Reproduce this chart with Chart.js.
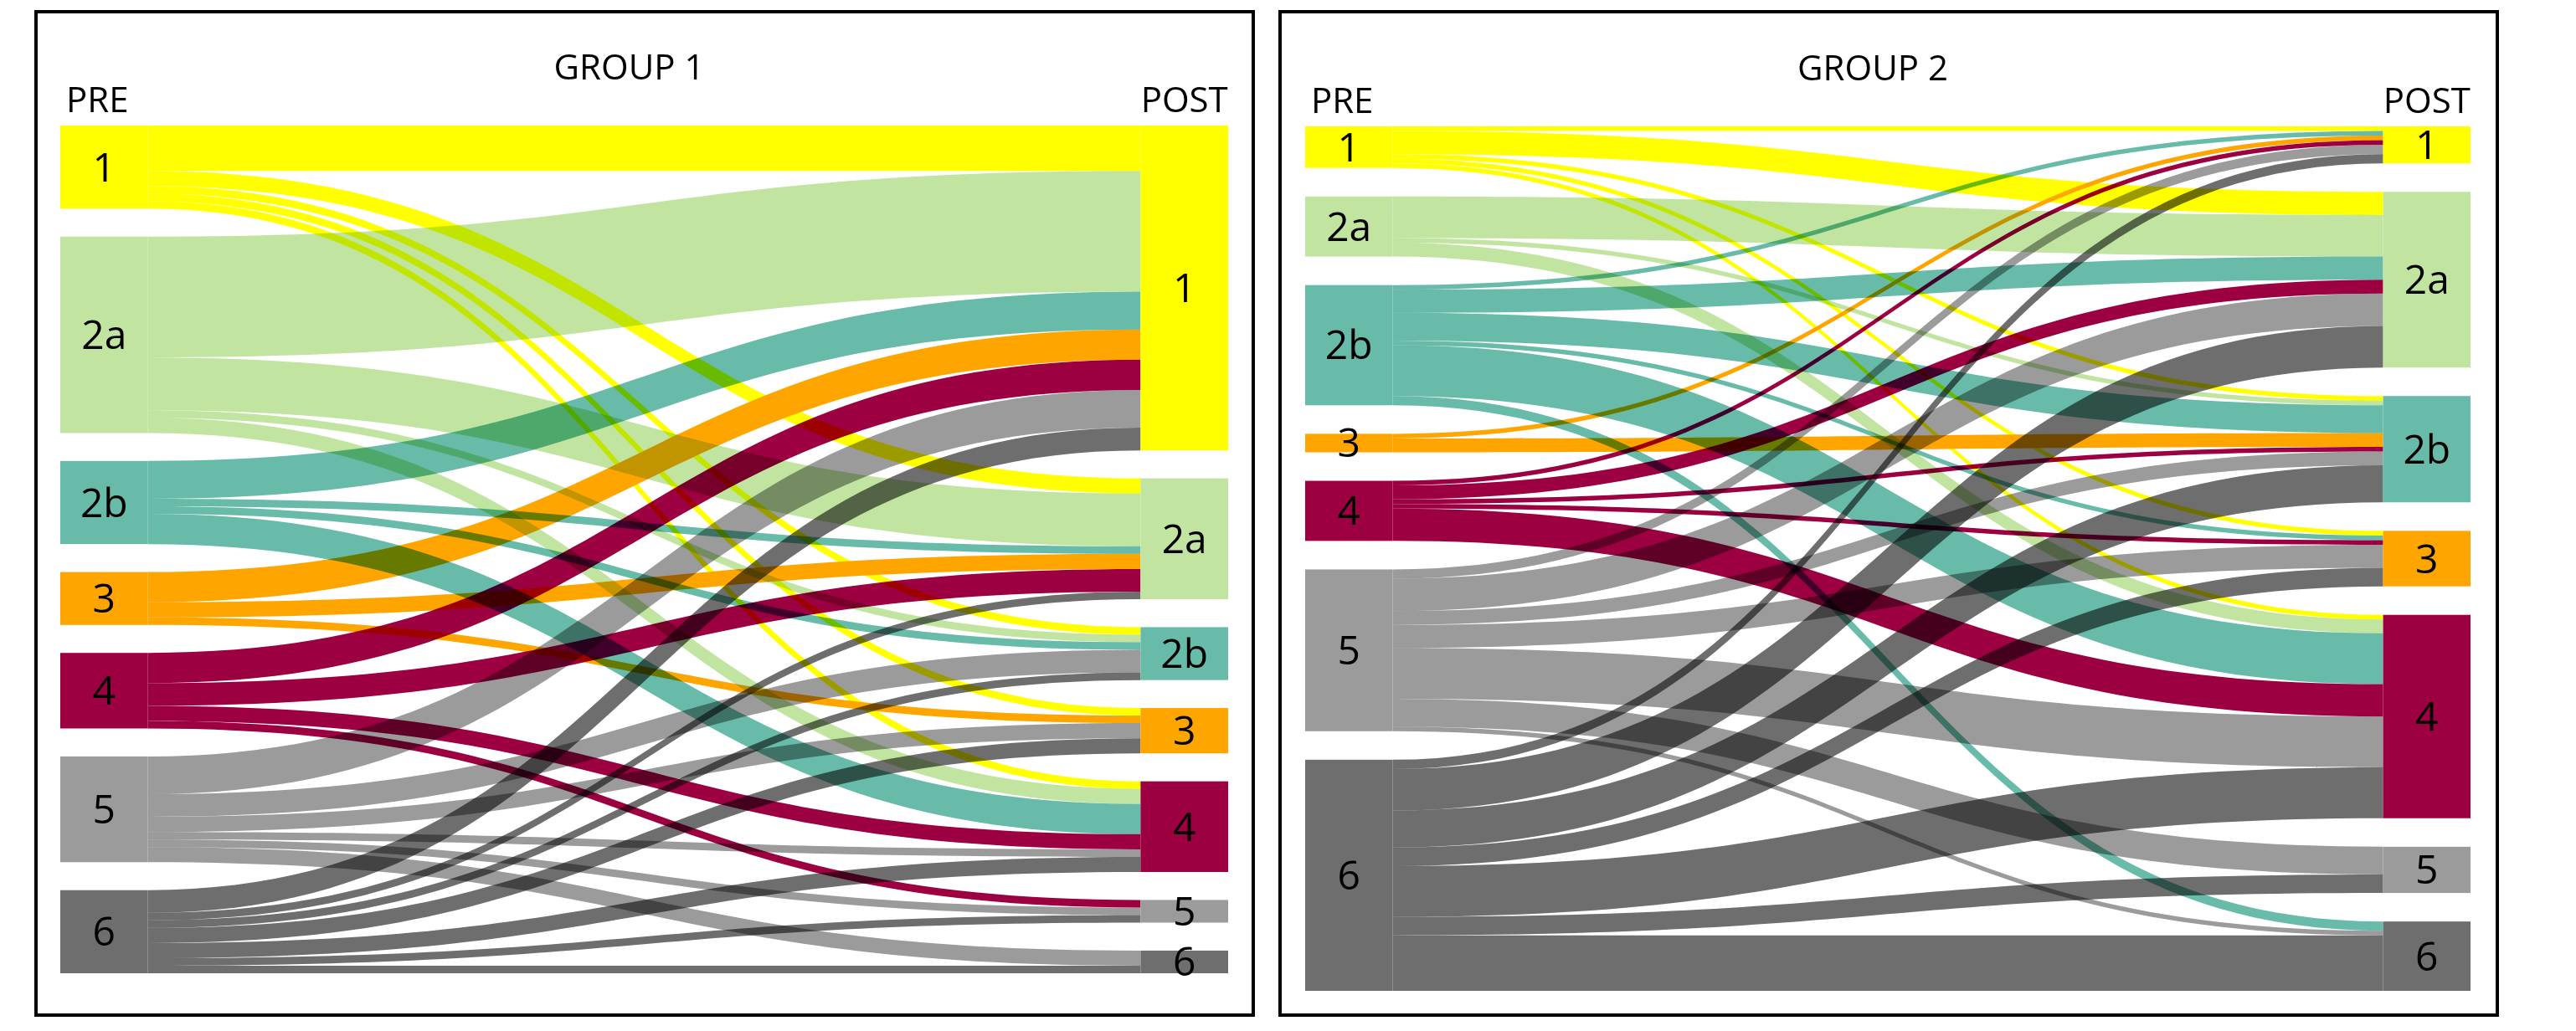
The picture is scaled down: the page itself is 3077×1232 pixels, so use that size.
<!DOCTYPE html>
<html>
<head>
<meta charset="utf-8">
<title>PRE / POST flows, group 1 and group 2</title>
<script src="https://cdn.jsdelivr.net/npm/chart.js@4.4.1/dist/chart.umd.min.js"></script>
<style>
  html, body { margin: 0; padding: 0; background: #fff; }
  body { width: 3077px; height: 1232px; position: relative; overflow: hidden; }
  .panel { position: absolute; top: 12px; width: 1450px; height: 1195px; border: 4px solid #000; }
  #panel1 { left: 41px; }
  #panel2 { left: 1527px; }
  canvas { display: block; }
</style>
</head>
<body>
<div class="panel" id="panel1"><canvas id="group1" width="1450" height="1195"></canvas></div>
<div class="panel" id="panel2"><canvas id="group2" width="1450" height="1195"></canvas></div>

<script>
const categories = ["1", "2a", "2b", "3", "4", "5", "6"];
const colors = ["#ffff00", "#c1e5a1", "#68bba9", "#ffa500", "#9c0040", "#9b9b9b", "#6e6e6e"];

const group1Flows = [
  [6, 2, 1, 1, 1, 0, 0],
  [16, 7, 1, 0, 2, 0, 0],
  [5, 1, 1, 0, 4, 0, 0],
  [4, 2, 0, 1, 0, 0, 0],
  [4, 3, 0, 0, 2, 1, 0],
  [5, 0, 3, 2, 1, 1, 2],
  [3, 1, 1, 2, 2, 1, 1],
];

const group2Flows = [
  [1, 5, 1, 1, 1, 0, 0],
  [0, 9, 1, 0, 3, 0, 0],
  [1, 5, 6, 1, 11, 0, 2],
  [1, 0, 3, 0, 0, 0, 0],
  [1, 3, 1, 1, 7, 0, 0],
  [2, 7, 3, 5, 11, 6, 1],
  [2, 9, 8, 4, 11, 4, 12],
];

const NODE_W = 0.075;   // node width as a share of the x axis
const GAP_FRAC = 0.033; // gap between nodes as a share of the y axis
const sum = (arr) => arr.reduce((a, b) => a + b, 0);

const sankeyPlugin = {
  id: "sankey",
  afterDatasetsDraw(chart, args, opts) {
    const { ctx, chartArea } = chart;
    const { x, y } = chart.scales;
    const flows = opts.flows;

    const outTotals = flows.map(sum);
    const inTotals = categories.map((_, j) => sum(flows.map((r) => r[j])));
    const gap = y.max * GAP_FRAC;

    const leftTop = [];
    const rightTop = [];
    let acc = 0;
    outTotals.forEach((t) => { leftTop.push(acc); acc += t + gap; });
    acc = 0;
    inTotals.forEach((t) => { rightTop.push(acc); acc += t + gap; });

    const xl0 = x.getPixelForValue(0);
    const xl1 = x.getPixelForValue(NODE_W);
    const xr0 = x.getPixelForValue(1 - NODE_W);
    const xr1 = x.getPixelForValue(1);
    const xm = (xl1 + xr0) / 2;

    // ribbons, multiplied so crossings darken like the original
    ctx.save();
    ctx.globalCompositeOperation = "multiply";
    const outOff = leftTop.slice();
    const inOff = rightTop.slice();
    flows.forEach((row, i) => {
      row.forEach((v, j) => {
        if (!v) return;
        const a0 = y.getPixelForValue(outOff[i]);
        const a1 = y.getPixelForValue(outOff[i] + v);
        const b0 = y.getPixelForValue(inOff[j]);
        const b1 = y.getPixelForValue(inOff[j] + v);
        outOff[i] += v;
        inOff[j] += v;
        ctx.beginPath();
        ctx.moveTo(xl1, a0);
        ctx.bezierCurveTo(xm, a0, xm, b0, xr0, b0);
        ctx.lineTo(xr0, b1);
        ctx.bezierCurveTo(xm, b1, xm, a1, xl1, a1);
        ctx.closePath();
        ctx.fillStyle = colors[i];
        ctx.fill();
      });
    });
    ctx.restore();

    // nodes and their labels
    ctx.save();
    ctx.font = "48px 'Open Sans'";
    ctx.textAlign = "center";
    ctx.textBaseline = "alphabetic";
    categories.forEach((name, i) => {
      [[xl0, xl1, leftTop[i], outTotals[i]], [xr0, xr1, rightTop[i], inTotals[i]]].forEach(([p0, p1, top, total]) => {
        const t = y.getPixelForValue(top);
        const b = y.getPixelForValue(top + total);
        ctx.fillStyle = colors[i];
        ctx.fillRect(p0, t, p1 - p0, b - t);
        ctx.fillStyle = "#000";
        ctx.fillText(name, (p0 + p1) / 2, (t + b) / 2 + 17);
      });
    });

    // headings
    ctx.font = "42px 'Open Sans'";
    ctx.fillText(opts.title, (chartArea.left + chartArea.right) / 2 - 18, chartArea.top - 55);
    ctx.fillText("PRE", (xl0 + xl1) / 2 - 8, chartArea.top - 16);
    ctx.fillText("POST", (xr0 + xr1) / 2, chartArea.top - 16);
    ctx.restore();
  },
};

function makeChart(id, title, flows, padding) {
  const total = sum(flows.map(sum));
  return new Chart(document.getElementById(id), {
    type: "scatter",
    data: { datasets: [{ data: [] }] },
    plugins: [sankeyPlugin],
    options: {
      responsive: false,
      animation: false,
      devicePixelRatio: 1,
      layout: { padding },
      plugins: {
        legend: { display: false },
        tooltip: { enabled: false },
        sankey: { flows, title },
      },
      scales: {
        x: { type: "linear", min: 0, max: 1, display: false },
        y: { type: "linear", min: 0, max: total / (1 - 6 * GAP_FRAC), reverse: true, display: false },
      },
    },
  });
}

makeChart("group1", "GROUP 1", group1Flows, { left: 27, right: 28, top: 134, bottom: 48 });
makeChart("group2", "GROUP 2", group2Flows, { left: 28, right: 30, top: 135, bottom: 27 });
</script>
</body>
</html>
